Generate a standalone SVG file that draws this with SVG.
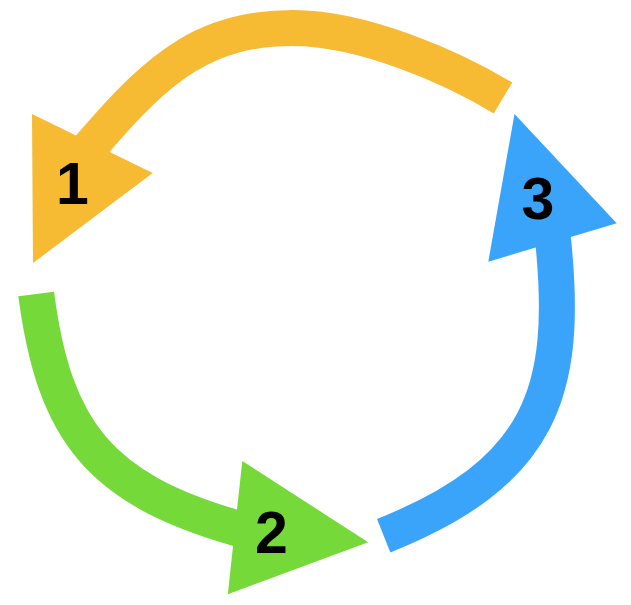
<svg xmlns="http://www.w3.org/2000/svg" width="631" height="605" viewBox="0 0 631 605">
<style>
.arc{fill:none;stroke-width:36;stroke-linecap:butt}
.lbl{font-family:"Liberation Sans",Arial,sans-serif;font-weight:bold;font-size:59px;fill:#000;text-anchor:middle}
</style>
<rect width="631" height="605" fill="#fff"/>
<g id="connectors">
<path class="arc" stroke="#F6BB33" d="M503,98 C451.6,67.2 363,28 293,28 C208,28 161,63.5 93,143.5 l -4,4.7"/>
<path class="arc" stroke="#75D93A" d="M36.2,294 C54.3,432.9 100.6,488.5 235,527.7 l 4.8,1.4"/>
<path class="arc" stroke="#3AA4FB" d="M383.7,535.7 C541.5,472.6 568.3,392 553.3,242 l -0.5,-5"/>
</g>
<g id="node1">
<polygon fill="#F6BB33" points="32,114 152.7,173 33,263"/>
<text class="lbl" x="72.4" y="204">1</text>
</g>
<g id="node2">
<polygon fill="#75D93A" points="242.3,461 368.2,542.3 227.8,594.3"/>
<text class="lbl" x="271.5" y="553">2</text>
</g>
<g id="node3">
<polygon fill="#3AA4FB" points="514.5,114 616.7,223.3 488.3,261.7"/>
<text class="lbl" x="538" y="219">3</text>
</g>
</svg>
